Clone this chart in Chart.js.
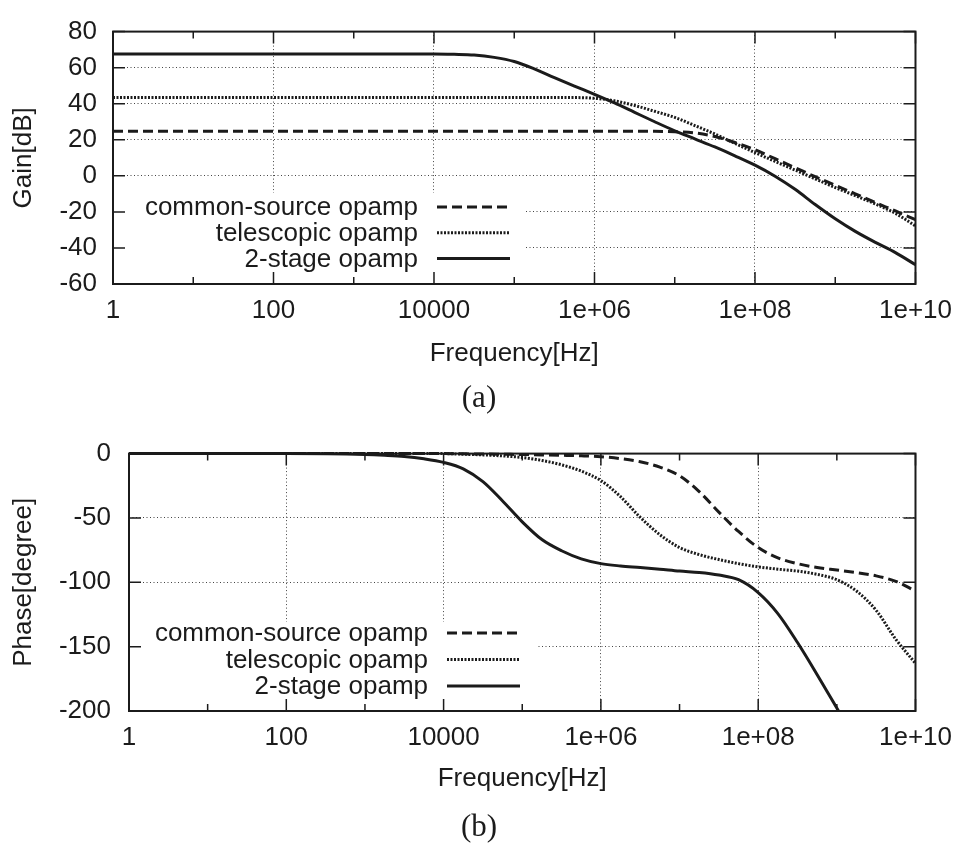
<!DOCTYPE html>
<html>
<head>
<meta charset="utf-8">
<script src="https://cdn.jsdelivr.net/npm/chart.js@4.4.0/dist/chart.umd.min.js"></script>
<style>
  body { margin: 0; background: #fff; width: 963px; height: 844px; position: relative; overflow: hidden; }
  canvas { position: absolute; left: 0; }
  #gainChart { top: 0; }
  #phaseChart { top: 420px; }
  .cap { position: absolute; left: 479px; transform: translateX(-50%); font: 31px 'Liberation Serif', 'Times New Roman', serif; color: #1b1b1b; line-height: 32px; }
</style>
</head>
<body>
<canvas id="gainChart" width="963" height="420"></canvas>
<canvas id="phaseChart" width="963" height="424"></canvas>
<div class="cap" style="top:381px">(a)</div>
<div class="cap" style="top:810px">(b)</div>
<script>
// frequencies (Hz): decades up to 1 kHz, then quarter-decade steps
const freqs = [1, 10, 100, 1e3, 1.778e3, 3.162e3, 5.623e3,
  1e4, 1.778e4, 3.162e4, 5.623e4, 1e5, 1.778e5, 3.162e5, 5.623e5,
  1e6, 1.778e6, 3.162e6, 5.623e6, 1e7, 1.778e7, 3.162e7, 5.623e7,
  1e8, 1.778e8, 3.162e8, 5.623e8, 1e9, 1.778e9, 3.162e9, 5.623e9, 1e10];

const seriesNames = ['common-source opamp', 'telescopic opamp', '2-stage opamp'];

// gain [dB]
const gainCommonSource = [24.7, 24.7, 24.7, 24.7, 24.7, 24.7, 24.7,
  24.7, 24.7, 24.7, 24.7, 24.7, 24.7, 24.7, 24.7,
  24.7, 24.7, 24.7, 24.7, 24.4, 23.8, 21.8, 18.5,
  14.5, 9.5, 4.5, -0.5, -5.2, -10.0, -14.8, -19.5, -24.3];
const gainTelescopic = [43.4, 43.4, 43.4, 43.4, 43.4, 43.4, 43.4,
  43.4, 43.4, 43.4, 43.4, 43.4, 43.4, 43.4, 43.4,
  43.0, 41.6, 39.0, 35.8, 32.4, 27.9, 23.2, 18.0,
  12.9, 8.0, 3.2, -1.7, -6.5, -11.0, -15.6, -20.8, -27.8];
const gainTwoStage = [67.6, 67.6, 67.6, 67.6, 67.6, 67.6, 67.6,
  67.6, 67.4, 67.0, 65.7, 63.4, 59.3, 54.5, 49.8,
  45.2, 40.4, 35.2, 30.0, 25.0, 20.5, 16.0, 11.1,
  5.9, -0.2, -7.5, -15.9, -23.8, -30.8, -36.9, -42.6, -49.3];

// phase [degree]
const phaseCommonSource = [0, 0, 0, 0, 0, 0, 0,
  0, -0.2, -0.3, -0.5, -0.7, -1.0, -1.3, -1.7,
  -2.4, -3.9, -6.3, -10.5, -17.3, -29.5, -45.5, -60.5,
  -73, -81, -85.5, -88.5, -90.5, -92.5, -95, -99.3, -106.8];
const phaseTelescopic = [0, 0, 0, 0, 0, 0, 0,
  0, -0.5, -1.0, -1.8, -3.0, -5.3, -8.7, -13.6,
  -21, -33.5, -49.5, -63, -73, -78.5, -82.3, -85.5,
  -88, -89.8, -91.3, -93.8, -98, -106.8, -121.8, -144.3, -163];
// the 2-stage phase leaves the plot at the bottom edge
const phaseTwoStageFreqs = [1, 10, 100, 1e3, 1.778e3, 3.162e3, 5.623e3,
  1e4, 1.778e4, 3.162e4, 5.623e4, 1e5, 1.778e5, 3.162e5, 5.623e5,
  1e6, 1.778e6, 3.162e6, 5.623e6, 1e7, 1.778e7, 3.162e7, 5.623e7,
  1e8, 1.778e8, 3.162e8, 5.623e8, 1.05e9];
const phaseTwoStage = [0, 0, 0, -0.7, -1.3, -2.2, -4.0,
  -6.8, -11.8, -21.8, -36.8, -53, -66.8, -75.5, -81.8,
  -85.5, -87.3, -88.5, -89.8, -91.3, -92.3, -94.3, -98,
  -108, -124.3, -146.8, -171.8, -200];

// axes
const xMajorTicks = [1, 1e2, 1e4, 1e6, 1e8, 1e10];
const xTickLabels = ['1', '100', '10000', '1e+06', '1e+08', '1e+10'];
const xMinorTicks = [10, 1e3, 1e5, 1e7, 1e9];
const gainTicks = [-60, -40, -20, 0, 20, 40, 60, 80];
const phaseTicks = [-200, -150, -100, -50, 0];

const ink = '#1b1b1b';
const fontFamily = "'Liberation Sans', Arial, sans-serif";
const txt = { family: fontFamily, size: 26 };
const dashes = [[10, 5], [2, 1.5], []];

function series(i, xs, ys) {
  return {
    label: seriesNames[i],
    data: ys.map((v, k) => ({ x: xs[k], y: v })),
    borderColor: ink,
    borderWidth: 3,
    borderDash: dashes[i],
    pointRadius: 0,
    fill: false,
    cubicInterpolationMode: 'monotone',
    clip: 4
  };
}

// gnuplot look: inward ticks on all sides, framed box, key with samples on the right
const gnuplotFrame = {
  id: 'gnuplotFrame',
  beforeDatasetsDraw(chart, args, opts) {
    const { ctx, chartArea: a } = chart;
    ctx.save();
    ctx.fillStyle = '#fff';
    ctx.fillRect(a.left + 1, opts.boxTop, opts.boxRight - a.left, a.bottom - opts.boxTop);
    ctx.restore();
  },
  afterDatasetsDraw(chart, args, opts) {
    const { ctx, chartArea: a, scales } = chart;
    const x = scales.x, y = scales.y;
    ctx.save();
    ctx.strokeStyle = ink;
    ctx.lineWidth = 1.5;
    ctx.beginPath();
    xMajorTicks.forEach(v => {
      const px = x.getPixelForValue(v);
      ctx.moveTo(px, a.bottom); ctx.lineTo(px, a.bottom - 12);
      ctx.moveTo(px, a.top); ctx.lineTo(px, a.top + 12);
    });
    xMinorTicks.forEach(v => {
      const px = x.getPixelForValue(v);
      ctx.moveTo(px, a.bottom); ctx.lineTo(px, a.bottom - 7);
      ctx.moveTo(px, a.top); ctx.lineTo(px, a.top + 7);
    });
    y.ticks.forEach(t => {
      const py = y.getPixelForValue(t.value);
      ctx.moveTo(a.left, py); ctx.lineTo(a.left + 12, py);
      ctx.moveTo(a.right, py); ctx.lineTo(a.right - 12, py);
    });
    ctx.stroke();
    ctx.lineWidth = 2;
    ctx.strokeRect(a.left, a.top, a.right - a.left, a.bottom - a.top);

    // key
    ctx.font = '26px ' + fontFamily;
    ctx.fillStyle = ink;
    ctx.textAlign = 'right';
    ctx.textBaseline = 'middle';
    chart.data.datasets.forEach((ds, i) => {
      const ry = opts.rowY + i * opts.rowGap;
      ctx.fillText(ds.label, opts.textRight, ry + 1);
      ctx.beginPath();
      ctx.lineWidth = ds.borderWidth;
      ctx.setLineDash(ds.borderDash);
      ctx.moveTo(opts.sampleLeft, ry);
      ctx.lineTo(opts.sampleRight, ry);
      ctx.stroke();
      ctx.setLineDash([]);
    });
    ctx.restore();
  }
};

function makeChart(id, datasets, o) {
  return new Chart(document.getElementById(id), {
    type: 'line',
    data: { datasets },
    options: {
      responsive: false,
      animation: false,
      layout: { padding: { left: 0, top: o.top, right: 44, bottom: 0 } },
      plugins: {
        legend: { display: false },
        tooltip: { enabled: false },
        gnuplotFrame: o.key
      },
      scales: {
        x: {
          type: 'logarithmic',
          min: 1, max: 1e10,
          afterBuildTicks: s => { s.ticks = xMajorTicks.map(v => ({ value: v })); },
          afterFit: s => { s.height = o.xHeight; },
          ticks: {
            autoSkip: false, maxRotation: 0, padding: 11, color: ink, font: txt,
            callback: v => xTickLabels[xMajorTicks.indexOf(v)]
          },
          grid: { drawTicks: false, color: '#444', lineWidth: 1 },
          border: { display: false, dash: [1, 2.5] },
          title: { display: true, text: 'Frequency[Hz]', color: ink, font: txt, padding: { top: 0, bottom: o.xTitlePad } }
        },
        y: {
          min: o.yTicks[0], max: o.yTicks[o.yTicks.length - 1],
          afterBuildTicks: s => { s.ticks = o.yTicks.map(v => ({ value: v })); },
          afterFit: s => { s.width = o.yWidth; },
          ticks: { padding: o.yTickPad, color: ink, font: txt, callback: v => String(v) },
          grid: { drawTicks: false, color: '#444', lineWidth: 1 },
          border: { display: false, dash: [1, 2.5] },
          title: { display: true, text: o.yTitle, color: ink, font: txt, padding: { top: 8, bottom: 0 } }
        }
      }
    },
    plugins: [gnuplotFrame]
  });
}

makeChart('gainChart', [
  series(0, freqs, gainCommonSource),
  series(1, freqs, gainTelescopic),
  series(2, freqs, gainTwoStage)
], {
  top: 17, xHeight: 136, xTitlePad: 51, yWidth: 113, yTickPad: 16,
  yTicks: gainTicks, yTitle: 'Gain[dB]',
  key: { boxTop: 193, boxRight: 525, textRight: 418, sampleLeft: 437, sampleRight: 510, rowY: 207, rowGap: 25.7 }
});

makeChart('phaseChart', [
  series(0, freqs, phaseCommonSource),
  series(1, freqs, phaseTelescopic),
  series(2, phaseTwoStageFreqs, phaseTwoStage)
], {
  top: 24, xHeight: 133, xTitlePad: 50, yWidth: 129, yTickPad: 18,
  yTicks: phaseTicks, yTitle: 'Phase[degree]',
  key: { boxTop: 202, boxRight: 535, textRight: 428, sampleLeft: 447, sampleRight: 520, rowY: 213, rowGap: 26.5 }
});
</script>
</body>
</html>
